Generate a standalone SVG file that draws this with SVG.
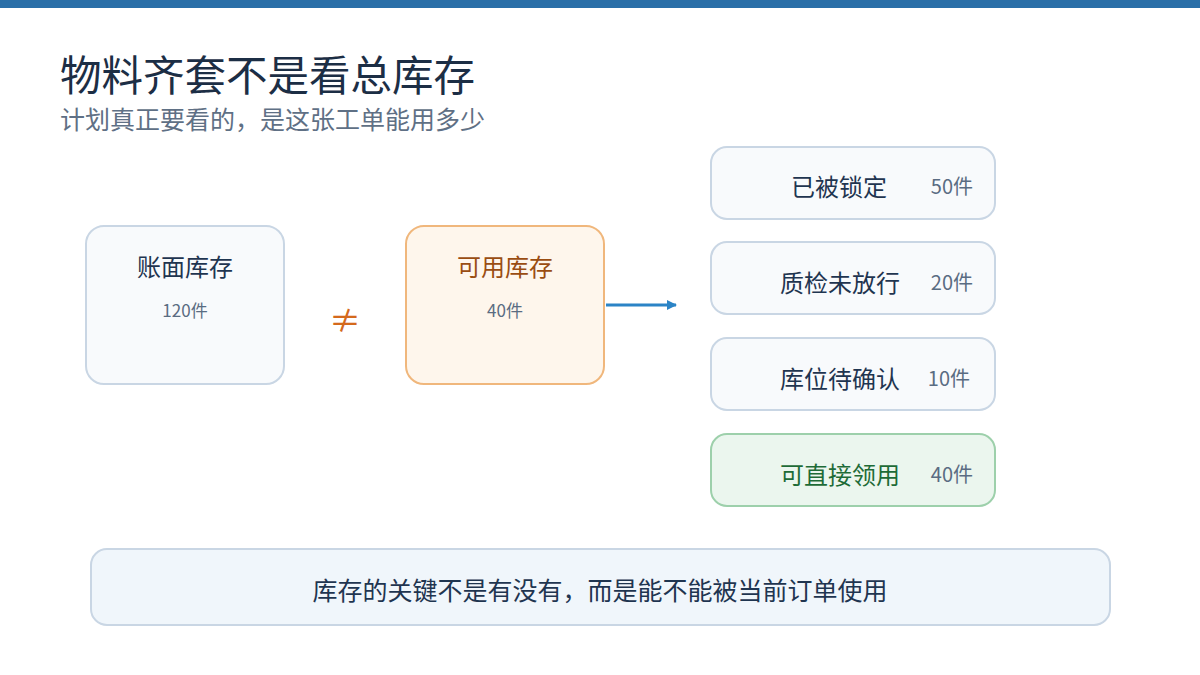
<svg xmlns="http://www.w3.org/2000/svg" width="1200" height="675" viewBox="0 0 1200 675">
<style>
text{font-family:"Noto Sans CJK SC","Noto Sans",sans-serif}
.n{fill:#f8fafc;stroke:#c9d6e4;stroke-width:2}
.t{fill:#1f3550;font-size:24px}
.c{fill:#5a6c82;font-size:20px}
.s{fill:#5a6c82;font-size:17px}
</style>
<defs><marker id="a" markerWidth="10" markerHeight="10" refX="9" refY="5" orient="auto" markerUnits="userSpaceOnUse"><path d="M0,0L10,5L0,10Z" fill="#2b84c6"/></marker></defs>
<rect width="1200" height="675" fill="#fff"/>
<rect width="1200" height="8" fill="#2a6fa8"/>
<text x="60" y="91" style="font-size:41.5px;fill:#1c2e45">物料齐套不是看总库存</text>
<text x="60" y="129" style="font-size:25px;fill:#5f7085">计划真正要看的，是这张工单能用多少</text>
<g id="book"><rect class="n" x="86" y="226" width="198" height="158" rx="18"/><text class="t" x="185" y="276" text-anchor="middle">账面库存</text><text class="s" x="185" y="317" text-anchor="middle">120件</text></g>
<g id="neq"><text x="345" y="332" text-anchor="middle" style="font-size:32px;fill:#d4691c">≠</text></g>
<g id="avail"><rect x="406" y="226" width="198" height="158" rx="18" fill="#fef6ec" stroke="#f0b77c" stroke-width="2"/><text class="t" x="505" y="276" text-anchor="middle" style="fill:#9a4d12">可用库存</text><text class="s" x="505" y="317" text-anchor="middle">40件</text></g>
<g id="connectors"><line x1="606" y1="305" x2="676" y2="305" stroke="#2b84c6" stroke-width="3" marker-end="url(#a)"/></g>
<g id="locked"><rect class="n" x="711" y="147" width="284" height="72" rx="16"/><text class="t" x="887" y="196" text-anchor="end">已被锁定</text><text class="c" x="973" y="194" text-anchor="end">50件</text></g>
<g id="qc"><rect class="n" x="711" y="242" width="284" height="72" rx="16"/><text class="t" x="900" y="292" text-anchor="end">质检未放行</text><text class="c" x="973" y="290" text-anchor="end">20件</text></g>
<g id="loc"><rect class="n" x="711" y="338" width="284" height="72" rx="16"/><text class="t" x="900" y="388" text-anchor="end">库位待确认</text><text class="c" x="970" y="386" text-anchor="end">10件</text></g>
<g id="ok"><rect x="711" y="434" width="284" height="72" rx="16" fill="#ebf6ee" stroke="#9dd0ab" stroke-width="2"/><text class="t" x="900" y="484" text-anchor="end" style="fill:#1e6b37">可直接领用</text><text class="c" x="973" y="482" text-anchor="end">40件</text></g>
<g id="note"><rect x="91" y="549" width="1019" height="76" rx="16" fill="#f0f6fb" stroke="#c9d6e4" stroke-width="2"/><text x="600" y="600" text-anchor="middle" style="font-size:25px;fill:#1f3550">库存的关键不是有没有，而是能不能被当前订单使用</text></g>
</svg>
